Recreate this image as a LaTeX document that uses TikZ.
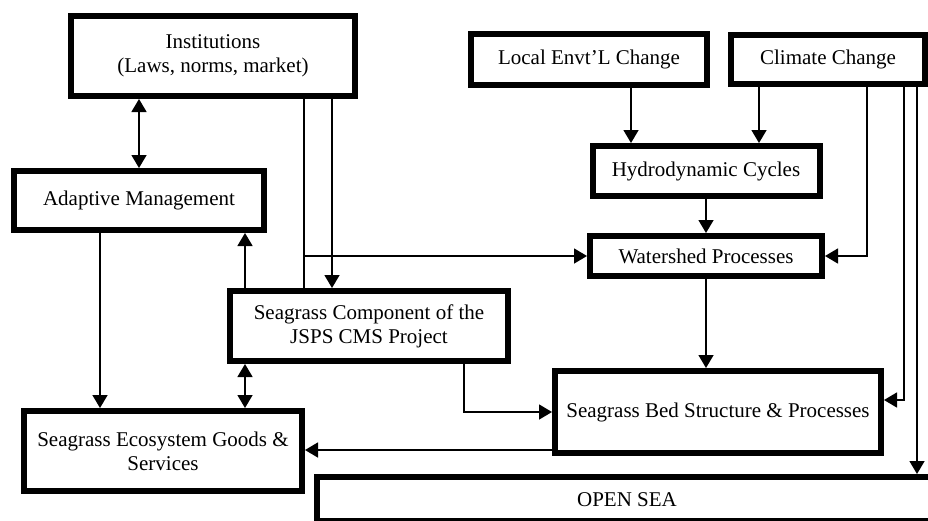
\documentclass[tikz,border=0pt]{standalone}
\usepackage{fontspec}
\setmainfont{Liberation Serif}
\usetikzlibrary{arrows.meta,positioning}

\begin{document}
\begin{tikzpicture}[x=1pt, y=-1pt,
    box/.style={draw, line width=6pt, inner sep=0pt, align=center,
                font=\fontsize{21}{24}\selectfont},
    link/.style={line width=1.5pt},
    arr/.style={link, -{Triangle[length=13pt,width=15pt]}},
    darr/.style={link, {Triangle[length=13pt,width=15pt]}-{Triangle[length=13pt,width=15pt]}}
]
    \useasboundingbox (0,0) rectangle (928,520);
    \clip (0,0) rectangle (928,520);

    \node[box, minimum width=284pt, minimum height=80pt] (inst) at (213,56) {Institutions\\(Laws, norms, market)};
    \node[box, minimum width=250pt, minimum height=59pt] (adapt) at (139,200.5) {Adaptive Management};
    \node[box, minimum width=236pt, minimum height=51pt] (local) at (589,59.5) {Local Envt’L Change};
    \node[box, minimum width=194pt, minimum height=49pt] (climate) at (828,59.5) {Climate Change};
    \node[box, minimum width=227pt, minimum height=50pt] (hydro) at (706,171) {Hydrodynamic Cycles};
    \node[box, minimum width=232pt, minimum height=40pt] (water) at (706,256) {Watershed Processes};
    \node[box, minimum width=278pt, minimum height=70pt] (comp) at (369,326) {Seagrass Component of the\\JSPS CMS Project};
    \node[box, minimum width=326pt, minimum height=82pt] (bed) at (718,412) {Seagrass Bed Structure \& Processes};
    \node[box, minimum width=278pt, minimum height=80pt] (goods) at (163,451) {Seagrass Ecosystem Goods \&\\Services};
    \node[box, anchor=north west, minimum width=700pt, minimum height=44pt] (sea) at (314,474) {};
    \node[font=\fontsize{21}{24}\selectfont] (sealabel) at (627,500) {OPEN SEA};

    % turning points of the connectors
    \coordinate (j1) at (304,256);
    \coordinate (c1) at (332,0);
    \coordinate (c2) at (245,0);
    \coordinate (c3) at (100,0);
    \coordinate (c4) at (464,412);
    \coordinate (c5) at (631,0);
    \coordinate (c6) at (759,0);
    \coordinate (c7) at (867,256);
    \coordinate (c8) at (904,400);
    \coordinate (c9) at (917,0);
    \coordinate (c10) at (0,450);

    \draw[darr] (inst.south -| adapt) -- (adapt.north);
    \draw[link] (inst.south -| j1) -- (comp.north -| j1);
    \draw[arr] (j1) -- (j1 -| water.west);
    \draw[arr] (inst.south -| c1) -- (comp.north -| c1);
    \draw[arr] (comp.north -| c2) -- (adapt.south -| c2);
    \draw[darr] (comp.south -| c2) -- (goods.north -| c2);
    \draw[arr] (adapt.south -| c3) -- (goods.north -| c3);
    \draw[arr] (comp.south -| c4) -- (c4) -- (c4 -| bed.west);
    \draw[arr] (c10 -| bed.west) -- (c10 -| goods.east);
    \draw[arr] (local.south -| c5) -- (hydro.north -| c5);
    \draw[arr] (climate.south -| c6) -- (hydro.north -| c6);
    \draw[arr] (hydro.south) -- (water.north);
    \draw[arr] (water.south) -- (bed.north -| water.south);
    \draw[arr] (climate.south -| c7) -- (c7) -- (c7 -| water.east);
    \draw[arr] (climate.south -| c8) -- (c8) -- (c8 -| bed.east);
    \draw[arr] (climate.south -| c9) -- (c9 |- sea.north);
\end{tikzpicture}
\end{document}
